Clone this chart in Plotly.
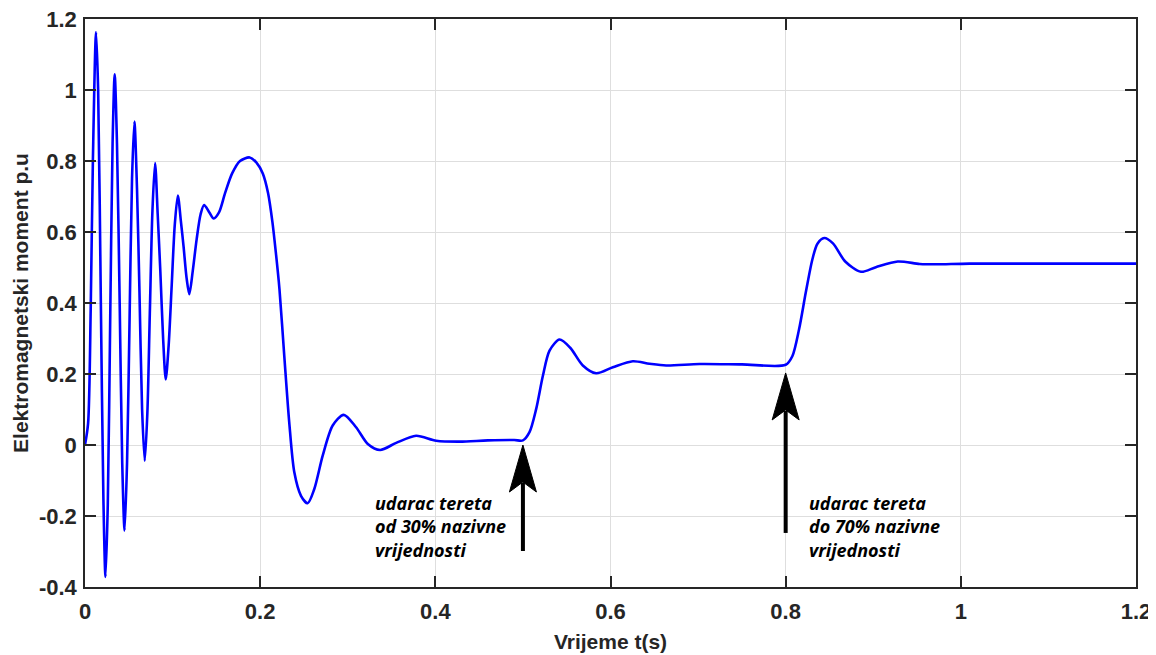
import plotly.graph_objects as go

# Time (s) and electromagnetic torque (p.u.)
t = [0.000, 0.0035, 0.0065, 0.0090, 0.0126, 0.0150, 0.0181, 0.0210, 0.0234, 0.0260,
     0.0287, 0.0315, 0.0339, 0.0365, 0.0396, 0.0425, 0.0452, 0.0480, 0.0508, 0.0537,
     0.0564, 0.0594, 0.0622, 0.0652, 0.0682, 0.0712, 0.0740, 0.0770, 0.0800, 0.0830,
     0.0860, 0.0892, 0.0922, 0.0955, 0.0990, 0.1025, 0.1060, 0.1095, 0.1125, 0.1160,
     0.1191, 0.1230, 0.1275, 0.1320, 0.1360, 0.1420, 0.1470, 0.1530, 0.1600, 0.1680,
     0.1770, 0.1880, 0.1960, 0.2030, 0.2090, 0.2140, 0.2180, 0.2220, 0.2275, 0.2332,
     0.2390, 0.2466, 0.2542, 0.2618, 0.2714, 0.2828, 0.2954, 0.3095, 0.3229, 0.3370,
     0.3553, 0.3780, 0.4010, 0.4280, 0.4600, 0.4900, 0.5000, 0.5075, 0.5151, 0.5228,
     0.5304, 0.5418, 0.5540, 0.5684, 0.5836, 0.6027, 0.6255, 0.6445, 0.6635, 0.7016,
     0.7500, 0.8000, 0.8076, 0.8153, 0.8230, 0.8306, 0.8363, 0.8440, 0.8540, 0.8680,
     0.8860, 0.9030, 0.9280, 0.9530, 0.9720, 1.0100, 1.2000]
torque = [0.000, 0.06, 0.38, 0.80, 1.163, 1.00, 0.40, -0.15, -0.372, -0.17,
          0.34, 0.85, 1.044, 0.85, 0.40, -0.05, -0.241, -0.05, 0.34, 0.75,
          0.911, 0.72, 0.43, 0.10, -0.045, 0.09, 0.37, 0.66, 0.794, 0.65,
          0.49, 0.30, 0.185, 0.28, 0.45, 0.62, 0.703, 0.63, 0.56, 0.47,
          0.425, 0.49, 0.58, 0.65, 0.676, 0.655, 0.638, 0.655, 0.71, 0.765,
          0.800, 0.810, 0.795, 0.765, 0.71, 0.628, 0.54, 0.44, 0.252, 0.064,
          -0.077, -0.143, -0.164, -0.124, -0.030, 0.055, 0.085, 0.050, 0.003, -0.014,
          0.006, 0.026, 0.012, 0.0095, 0.013, 0.014, 0.013, 0.036, 0.101, 0.195,
          0.266, 0.297, 0.274, 0.224, 0.202, 0.219, 0.236, 0.229, 0.224, 0.228,
          0.227, 0.226, 0.250, 0.326, 0.430, 0.524, 0.567, 0.583, 0.568, 0.517,
          0.488, 0.501, 0.517, 0.510, 0.509, 0.511, 0.511]

x_ticks = [0, 0.2, 0.4, 0.6, 0.8, 1.0, 1.2]
x_tick_labels = ["0", "0.2", "0.4", "0.6", "0.8", "1", "1.2"]
y_ticks = [-0.4, -0.2, 0, 0.2, 0.4, 0.6, 0.8, 1.0, 1.2]
y_tick_labels = ["-0.4", "-0.2", "0", "0.2", "0.4", "0.6", "0.8", "1", "1.2"]

# Load-step annotations: (time of step, arrow tip value, text)
events_t = [0.5, 0.8]
events_tip = [0.0, 0.203]
events_text = ["udarac tereta<br>od 30% nazivne<br>vrijednosti",
               "udarac tereta<br>do 70% nazivne<br>vrijednosti"]
events_text_x = [0.329, 0.8245]
events_shaft_len = [106, 160]

AX = "#262626"
GRID = "#dedede"
FONT = "Arial, Liberation Sans, sans-serif"

fig = go.Figure()
fig.add_trace(go.Scatter(
    x=t, y=torque, mode="lines",
    line=dict(color="#0000ff", width=2.6, shape="spline", smoothing=0.8),
    hoverinfo="skip", showlegend=False,
))

shapes = []
annotations = []
for et, tip, txt, tx, sl in zip(events_t, events_tip, events_text, events_text_x, events_shaft_len):
    # arrow head (stealth shape), in pixels relative to the tip
    shapes.append(dict(
        type="path", xref="x", yref="y", xsizemode="pixel", ysizemode="pixel",
        xanchor=et, yanchor=tip,
        path="M 0,0 L 13.5,-47 L 0,-37 L -13.5,-47 Z",
        fillcolor="black", line=dict(color="black", width=1),
    ))
    # shaft
    shapes.append(dict(
        type="line", xref="x", yref="y", xsizemode="pixel", ysizemode="pixel",
        xanchor=et, yanchor=tip, x0=0, x1=0, y0=-38, y1=-sl,
        line=dict(color="black", width=4),
    ))
    annotations.append(dict(
        x=tx, y=-0.124, xref="x", yref="y", xanchor="left", yanchor="top",
        text="<b><i>" + txt + "</i></b>", showarrow=False, align="left",
        font=dict(family="Open Sans, sans-serif", size=18, color="black"),
    ))

fig.update_layout(
    width=1148, height=647,
    margin=dict(l=77, r=20, t=11, b=68),
    paper_bgcolor="white", plot_bgcolor="white",
    shapes=shapes, annotations=annotations,
    font=dict(family=FONT, color=AX),
)
fig.update_xaxes(
    range=[0, 1.2], tickvals=x_ticks, ticktext=x_tick_labels, automargin=False,
    ticklabeloverflow="allow",
    showgrid=True, gridcolor=GRID, gridwidth=1, zeroline=False,
    showline=True, linecolor=AX, linewidth=1.5, mirror="ticks",
    ticks="inside", ticklen=11, tickwidth=1.5, tickcolor=AX,
    tickfont=dict(family=FONT, size=22, color=AX, weight="bold"),
    ticklabelstandoff=4,
    title=dict(text="Vrijeme t(s)", font=dict(family=FONT, size=21, color=AX, weight="bold"), standoff=11),
)
fig.update_yaxes(
    range=[-0.4, 1.2], tickvals=y_ticks, ticktext=y_tick_labels, automargin=False,
    ticklabeloverflow="allow",
    showgrid=True, gridcolor=GRID, gridwidth=1, zeroline=False,
    showline=True, linecolor=AX, linewidth=1.5, mirror="ticks",
    ticks="inside", ticklen=11, tickwidth=1.5, tickcolor=AX,
    tickfont=dict(family=FONT, size=22, color=AX, weight="bold"),
    ticklabelstandoff=2,
    title=dict(text="Elektromagnetski moment p.u", font=dict(family=FONT, size=21, color=AX, weight="bold"), standoff=5),
)

fig.write_html("out.html")
